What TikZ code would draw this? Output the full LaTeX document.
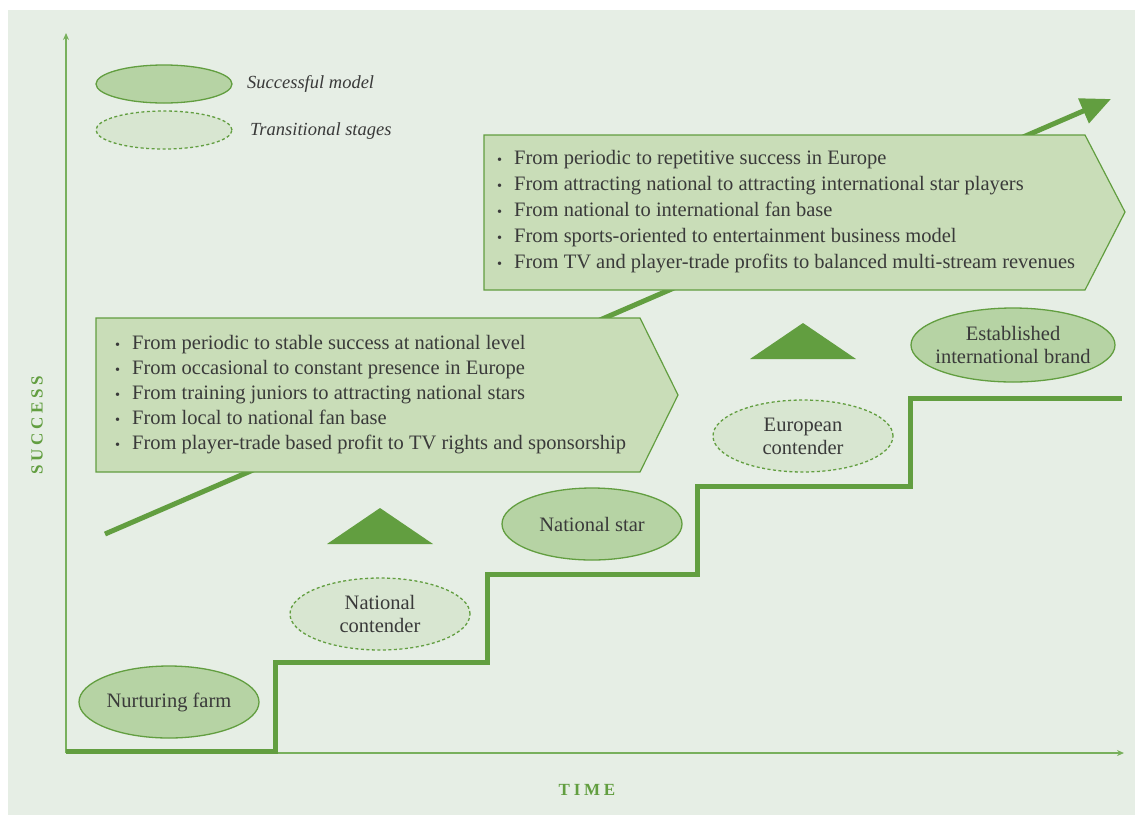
\documentclass[tikz,border=0pt]{standalone}
\usepackage{fontspec}
\setmainfont{Liberation Serif}
\newfontfamily\axisfont[LetterSpace=22]{Liberation Serif}
\usetikzlibrary{arrows.meta,shapes.geometric}
\definecolor{bgpanel}{RGB}{230,238,229}
\definecolor{gmain}{RGB}{98,158,64}
\definecolor{gaxis}{RGB}{120,176,92}
\definecolor{gsolid}{RGB}{182,211,164}
\definecolor{gdash}{RGB}{216,230,209}
\definecolor{gbox}{RGB}{201,221,184}
\definecolor{txt}{RGB}{58,58,58}
\newcommand{\bl}[1]{\makebox[17pt][l]{\scalebox{0.7}{\textbullet}}#1}
\begin{document}
\begin{tikzpicture}[x=1pt,y=-1pt,
  stage/.style={ellipse, draw=gmain, line width=1.3pt, fill=gsolid,
    minimum width=180pt, minimum height=72pt, inner sep=0pt, align=center,
    text=txt, font=\fontsize{20.5}{23}\selectfont},
  solidstage/.style={stage},
  dashstage/.style={stage, fill=gdash, dash pattern=on 3pt off 2.5pt},
  legendell/.style={stage, minimum width=136pt, minimum height=38pt},
  legendtext/.style={anchor=west, inner sep=0pt, text=txt, font=\fontsize{18.5}{20}\selectfont\itshape},
  bullets/.style={anchor=west, inner sep=0pt, align=left, text=txt,
    font=\fontsize{20.5}{25}\selectfont},
  boxshape/.style={draw=gmain, line width=1.2pt, fill=gbox, line join=miter},
  axislabel/.style={text=gmain, font=\fontsize{17}{17}\selectfont\axisfont\bfseries, inner sep=0pt},
  axisline/.style={draw=gaxis, line width=2pt, -{Stealth[length=7pt,width=6pt]}},
  stairs/.style={draw=gmain, line width=5pt, line join=miter},
  bigarrow/.style={draw=gmain, line width=5pt, -{Triangle[length=30pt,width=26pt]}},
  marker/.style={fill=gmain}
]
\useasboundingbox (0,0) rectangle (1135,815);
\fill[white] (0,0) rectangle (1135,815);
\fill[bgpanel] (8,10) rectangle (1135,815);

% axes
\coordinate (origin) at (66,753);
\coordinate (yend) at (66,33);
\coordinate (xend) at (1124,753);
\draw[axisline] (origin) -- (yend);
\draw[axisline] (origin) -- (xend);

% staircase
\draw[stairs] (66,751) -- (275,751) -- (275,662) -- (487,662) -- (487,574)
  -- (697,574) -- (697,486) -- (910,486) -- (910,398) -- (1122,398);

% big arrow
\coordinate (a0) at (105,534);
\coordinate (a1) at (1111,99);
\draw[bigarrow] (a0) -- (a1);

% boxes
\draw[boxshape] (96,318) -- (640,318) -- (678,395) -- (640,472) -- (96,472) -- cycle;
\node[bullets] (lefttext) at (115,395) {%
\bl{From periodic to stable success at national level}\\
\bl{From occasional to constant presence in Europe}\\
\bl{From training juniors to attracting national stars}\\
\bl{From local to national fan base}\\
\bl{From player-trade based profit to TV rights and sponsorship}};

\draw[boxshape] (484,135) -- (1085,135) -- (1125,212) -- (1085,290) -- (484,290) -- cycle;
\node[bullets, font=\fontsize{20.5}{26}\selectfont] (toptext) at (497,212) {%
\bl{From periodic to repetitive success in Europe}\\
\bl{From attracting national to attracting international star players}\\
\bl{From national to international fan base}\\
\bl{From sports-oriented to entertainment business model}\\
\bl{From TV and player-trade profits to balanced multi-stream revenues}};

% triangles
\fill[marker] (380,508) -- (433,544) -- (327,544) -- cycle;
\fill[marker] (803,323) -- (856,359) -- (750,359) -- cycle;

% stages
\node[solidstage] (farm) at (169,702) {Nurturing farm};
\node[dashstage] (natcont) at (380,614) {National\\contender};
\node[solidstage] (natstar) at (592,524) {National star};
\node[dashstage] (eurcont) at (803,436) {European\\contender};
\node[solidstage, minimum width=204pt, minimum height=74pt, inner xsep=-12pt, inner ysep=-6pt] (intbrand) at (1013,345) {Established\\international brand};

% legend
\node[legendell] (legsolid) at (164,84) {};
\node[legendell, fill=gdash, dash pattern=on 3pt off 2.5pt] (legdash) at (164,130) {};
\node[legendtext] (legsolidtext) at (247,84) {Successful model};
\node[legendtext] (legdashtext) at (250,131) {Transitional stages};

% axis labels
\node[axislabel, rotate=90] (ylabel) at (37,425) {SUCCESS};
\node[axislabel] (xlabel) at (587,790) {TIME};
\end{tikzpicture}
\end{document}
